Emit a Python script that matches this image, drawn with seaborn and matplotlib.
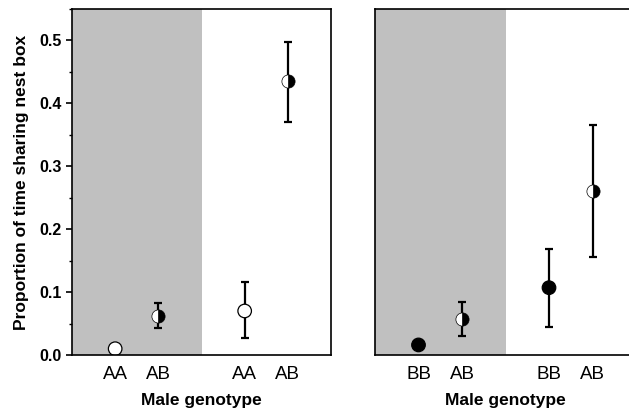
import matplotlib
matplotlib.use("Agg")
import matplotlib.pyplot as plt
import seaborn as sns
import pandas as pd
from matplotlib.ticker import MultipleLocator

sns.set_style("white")
plt.rcParams['font.family'] = ['Liberation Sans', 'DejaVu Sans']
plt.rcParams['text.color'] = 'black'
plt.rcParams['axes.labelcolor'] = 'black'
plt.rcParams['xtick.color'] = 'black'
plt.rcParams['ytick.color'] = 'black'

# Left panel data
left_labels = ["AA", "AB", "AA", "AB"]
left_pos = [1, 2, 4, 5]
left_mean = [0.010, 0.062, 0.070, 0.435]
left_lo = [None, 0.043, 0.027, 0.370]
left_hi = [None, 0.083, 0.116, 0.498]
left_style = ["open", "half", "open", "half"]

# Right panel data
right_labels = ["BB", "AB", "BB", "AB"]
right_pos = [1, 2, 4, 5]
right_mean = [0.016, 0.057, 0.107, 0.260]
right_lo = [None, 0.030, 0.045, 0.156]
right_hi = [None, 0.084, 0.168, 0.365]
right_style = ["filled", "half", "filled", "half"]

W, H = 629, 412
fig = plt.figure(figsize=(W / 100, H / 100), dpi=100)
axL = fig.add_axes([72 / W, 1 - 355 / H, 259 / W, 346 / H])
axR = fig.add_axes([375 / W, 1 - 355 / H, 261 / W, 346 / H])

def draw(ax, pos, mean, lo, hi, style, labels):
    ax.axvspan(0, 3, color="#c0c0c0", lw=0, zorder=0)
    # error bars
    for x, m, l, h in zip(pos, mean, lo, hi):
        if l is None:
            continue
        ax.errorbar([x], [m], yerr=[[m - l], [h - m]], fmt="none", ecolor="black",
                    elinewidth=1.6, capsize=2.6, capthick=1.6, zorder=2)
    df = pd.DataFrame({"x": pos, "y": mean, "style": style})
    sub = df[df["style"] != "half"]
    if len(sub):
        sns.scatterplot(data=sub, x="x", y="y", hue="style",
                        palette={"open": "white", "filled": "black"},
                        edgecolor="black", linewidth=0.9, s=95, legend=False,
                        zorder=3, ax=ax)
    half = df[df["style"] == "half"]
    for _, r in half.iterrows():
        ax.plot([r["x"]], [r["y"]], marker="o", ms=9.5, fillstyle="right",
                markerfacecolor="black", markerfacecoloralt="white",
                markeredgecolor="black", markeredgewidth=0.5, ls="none", zorder=3)
    ax.set_xlim(0, 6)
    ax.set_ylim(0, 0.55)
    ax.set_xticks(pos)
    ax.set_xticklabels(labels, fontsize=13.5)
    ax.tick_params(axis="x", length=0, pad=8)
    ax.set_xlabel("Male genotype", fontsize=12.5, fontweight="bold", labelpad=7)
    for s in ax.spines.values():
        s.set_visible(True)
        s.set_linewidth(1.2)
        s.set_color("black")
        s.set_zorder(5)

draw(axL, left_pos, left_mean, left_lo, left_hi, left_style, left_labels)
draw(axR, right_pos, right_mean, right_lo, right_hi, right_style, right_labels)

axL.yaxis.set_major_locator(MultipleLocator(0.1))
axL.yaxis.set_minor_locator(MultipleLocator(0.05))
axL.tick_params(axis="y", which="major", left=True, length=4, width=1.2, direction="out")
axL.tick_params(axis="y", which="minor", left=True, length=2.5, width=1.0, direction="out")
axL.set_yticklabels([f"{v:.1f}" for v in axL.get_yticks()], fontsize=11.5, fontweight="bold")
axL.set_ylabel("Proportion of time sharing nest box", fontsize=12.5, fontweight="bold", labelpad=7)

axR.set_yticks([])
axR.set_ylabel("")

fig.savefig("out.png", dpi=100)
